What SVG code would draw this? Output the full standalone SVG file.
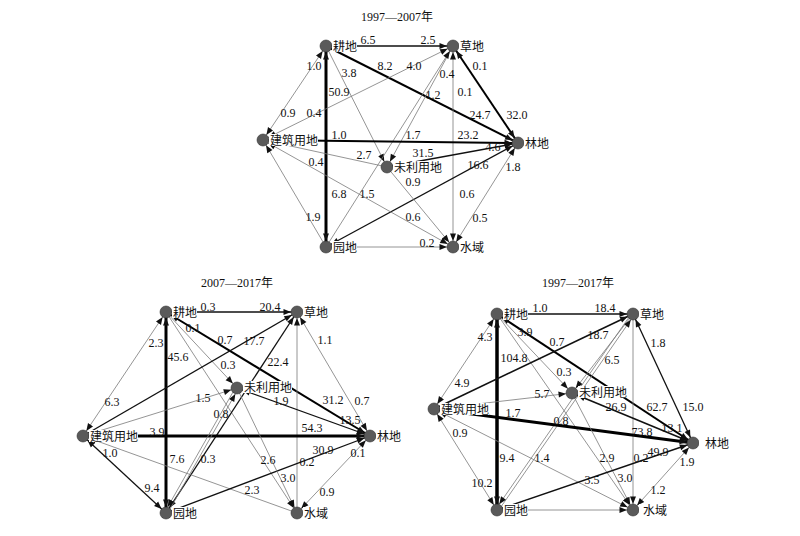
<svg xmlns="http://www.w3.org/2000/svg" width="800" height="536" viewBox="0 0 800 536">
<defs>
<style>
line{fill:none}
.t{stroke:#7a7a7a;stroke-width:.8}
.m{stroke:#111;stroke-width:1.3}
.k{stroke:#000;stroke-width:2}
.v{stroke:#000;stroke-width:3}
.a{marker-end:url(#ar)}
.b{marker-start:url(#ar);marker-end:url(#ar)}
.n{font-family:"Liberation Serif",serif;font-size:12px;fill:#111;text-anchor:middle}
.c{font-family:"Liberation Serif","Noto Sans CJK SC",sans-serif;font-size:12px;fill:#111}
.ttl{font-family:"Liberation Serif","Noto Sans CJK SC",serif;font-size:12px;fill:#111;text-anchor:middle}
circle{fill:#5a5a5a;stroke:#333;stroke-width:.6}
rect{fill:#fff}
</style>
<marker id="ar" markerUnits="userSpaceOnUse" orient="auto-start-reverse" viewBox="-14 -4 14 8" markerWidth="14" markerHeight="8" refX="0" refY="0"><path d="M-13.5,-3 L-6,0 L-13.5,3 Z" fill="#111"/></marker>
</defs>
<rect x="0" y="0" width="800" height="536" fill="#fff"/>
<text class="ttl" x="397" y="21">1997—2007年</text>
<text class="ttl" x="237" y="287">2007—2017年</text>
<text class="ttl" x="578" y="287">1997—2017年</text>

<g id="connectors">
<!-- top graph -->
<line class="m a" x1="326" y1="46" x2="453" y2="46"/>
<line class="t b" x1="326" y1="46" x2="263" y2="140"/>
<line class="v b" x1="326" y1="46" x2="326" y2="247"/>
<line class="k a" x1="326" y1="46" x2="518" y2="143"/>
<line class="t a" x1="326" y1="46" x2="387" y2="167"/>
<line class="t b" x1="263" y1="140" x2="453" y2="46"/>
<line class="k b" x1="453" y1="46" x2="518" y2="143"/>
<line class="t b" x1="453" y1="46" x2="453" y2="247"/>
<line class="t a" x1="453" y1="46" x2="387" y2="167"/>
<line class="t a" x1="326" y1="247" x2="453" y2="46"/>
<line class="k a" x1="263" y1="140" x2="518" y2="143"/>
<line class="m a" x1="387" y1="167" x2="518" y2="143"/>
<line class="m b" x1="326" y1="247" x2="518" y2="143"/>
<line class="t b" x1="518" y1="143" x2="453" y2="247"/>
<line class="t a" x1="387" y1="167" x2="263" y2="140"/>
<line class="t a" x1="326" y1="247" x2="263" y2="140"/>
<line class="t b" x1="263" y1="140" x2="453" y2="247"/>
<line class="t a" x1="387" y1="167" x2="453" y2="247"/>
<line class="t a" x1="326" y1="247" x2="453" y2="247"/>
<g class="n">
<text x="368" y="44">6.5</text><text x="428" y="44">2.5</text>
<text x="314" y="70">1.0</text><text x="349" y="77">3.8</text>
<text x="385" y="70">8.2</text><text x="414" y="70">4.0</text>
<text x="447" y="78">0.4</text><text x="480" y="70">0.1</text>
<text x="339" y="96">50.9</text><text x="433" y="99">1.2</text>
<text x="465" y="96">0.1</text><text x="288" y="117">0.9</text>
<text x="314" y="117">0.4</text><text x="480" y="119">24.7</text>
<text x="517" y="119">32.0</text><text x="339" y="139">1.0</text>
<text x="413" y="139">1.7</text><text x="468" y="139">23.2</text>
<text x="493" y="151">4.6</text><text x="423" y="157">31.5</text>
<text x="364" y="159">2.7</text><text x="316" y="166">0.4</text>
<text x="478" y="169">16.6</text><text x="513" y="171">1.8</text>
<text x="413" y="186">0.9</text><text x="339" y="198">6.8</text>
<text x="367" y="198">1.5</text><text x="467" y="198">0.6</text>
<text x="313" y="221">1.9</text><text x="413" y="221">0.6</text>
<text x="480" y="222">0.5</text><text x="427" y="247">0.2</text>
</g>

<!-- bottom-left graph -->
<line class="m a" x1="166" y1="312" x2="297" y2="312"/>
<line class="t b" x1="166" y1="312" x2="83" y2="436"/>
<line class="v b" x1="166" y1="312" x2="166" y2="513"/>
<line class="k b" x1="166" y1="312" x2="370" y2="436"/>
<line class="t a" x1="166" y1="312" x2="237" y2="388"/>
<line class="t a" x1="166" y1="312" x2="297" y2="513"/>
<line class="m a" x1="83" y1="436" x2="297" y2="312"/>
<line class="m b" x1="166" y1="513" x2="297" y2="312"/>
<line class="t b" x1="297" y1="312" x2="370" y2="436"/>
<line class="t a" x1="297" y1="513" x2="297" y2="312"/>
<line class="v a" x1="83" y1="436" x2="370" y2="436"/>
<line class="t a" x1="83" y1="436" x2="237" y2="388"/>
<line class="m b" x1="83" y1="436" x2="166" y2="513"/>
<line class="t a" x1="297" y1="513" x2="83" y2="436"/>
<line class="m a" x1="166" y1="513" x2="370" y2="436"/>
<line class="t b" x1="370" y1="436" x2="297" y2="513"/>
<line class="t a" x1="237" y1="388" x2="297" y2="513"/>
<line class="m b" x1="237" y1="388" x2="370" y2="436"/>
<line class="t a" x1="167.3" y1="513.7" x2="238.3" y2="388.7"/>
<line class="t a" x1="235.7" y1="387.3" x2="164.7" y2="512.3"/>
<g class="n">
<text x="208" y="311">0.3</text><text x="270" y="311">20.4</text>
<text x="193" y="332">0.1</text><text x="156" y="347">2.3</text>
<text x="225" y="344">0.7</text><text x="254" y="345">17.7</text>
<text x="325" y="344">1.1</text><text x="178" y="361">45.6</text>
<text x="278" y="366">22.4</text><text x="228" y="369">0.3</text>
<text x="203" y="402">1.5</text><text x="281" y="405">1.9</text>
<text x="333" y="404">31.2</text><text x="362" y="405">0.7</text>
<text x="112" y="406">6.3</text><text x="221" y="418">0.8</text>
<text x="350" y="424">13.5</text><text x="312" y="432">54.3</text>
<text x="157" y="436">3.9</text><text x="110" y="457">1.0</text>
<text x="177" y="463">7.6</text><text x="208" y="463">0.3</text>
<text x="323" y="454">30.9</text><text x="358" y="457">0.1</text>
<text x="307" y="466">0.2</text><text x="268" y="464">2.6</text>
<text x="288" y="482">3.0</text><text x="152" y="492">9.4</text>
<text x="252" y="494">2.3</text><text x="327" y="496">0.9</text>
</g>

<!-- bottom-right graph -->
<line class="m a" x1="497" y1="314" x2="633" y2="314"/>
<line class="t b" x1="497" y1="314" x2="434" y2="409"/>
<line class="v b" x1="497" y1="314" x2="497" y2="510" style="stroke-width:3.5"/>
<line class="k b" x1="497" y1="314" x2="693" y2="443"/>
<line class="t a" x1="497" y1="314" x2="572" y2="393"/>
<line class="t a" x1="497" y1="314" x2="633" y2="510"/>
<line class="m a" x1="434" y1="409" x2="633" y2="314" style="stroke-width:1.6"/>
<line class="t a" x1="633" y1="314" x2="572" y2="393"/>
<line class="t a" x1="498.2" y1="510.9" x2="634.2" y2="314.9"/>
<line class="t a" x1="631.8" y1="313.1" x2="495.8" y2="509.1"/>
<line class="m b" x1="633" y1="314" x2="693" y2="443"/>
<line class="t a" x1="633" y1="314" x2="633" y2="510"/>
<line class="t a" x1="434" y1="409" x2="572" y2="393"/>
<line class="v a" x1="434" y1="409" x2="693" y2="443"/>
<line class="t b" x1="434" y1="409" x2="497" y2="510"/>
<line class="t b" x1="434" y1="409" x2="633" y2="510"/>
<line class="m b" x1="572" y1="393" x2="693" y2="443" style="stroke-width:1.6"/>
<line class="t a" x1="572" y1="393" x2="633" y2="510"/>
<line class="m a" x1="497" y1="510" x2="693" y2="443" style="stroke-width:1.6"/>
<line class="t b" x1="693" y1="443" x2="633" y2="510"/>
<line class="t a" x1="497" y1="510" x2="633" y2="510"/>
<g class="n">
<text x="540" y="312">1.0</text><text x="605" y="312">18.4</text>
<text x="525" y="336">3.9</text><text x="485" y="341">4.3</text>
<text x="557" y="346">0.7</text><text x="598" y="339">18.7</text>
<text x="658" y="347">1.8</text><text x="514" y="362">104.8</text>
<text x="612" y="364">6.5</text><text x="564" y="376">0.3</text>
<text x="462" y="387">4.9</text><text x="542" y="398">5.7</text>
<text x="616" y="411">26.9</text><text x="657" y="411">62.7</text>
<text x="693" y="411">15.0</text><text x="513" y="417">1.7</text>
<text x="561" y="425">0.8</text><text x="642" y="436">73.8</text>
<text x="672" y="432">13.1</text><text x="460" y="437">0.9</text>
<text x="507" y="462">9.4</text><text x="542" y="462">1.4</text>
<text x="607" y="462">2.9</text><text x="641" y="462">0.2</text>
<text x="658" y="456">49.9</text><text x="687" y="466">1.9</text>
<text x="592" y="484">3.5</text><text x="625" y="482">3.0</text>
<text x="482" y="487">10.2</text><text x="658" y="494">1.2</text>
</g>
</g>

<!-- top nodes -->
<g id="t-gengdi"><circle cx="326" cy="46" r="6"/><rect x="332" y="40" width="25" height="12"/><text class="c" x="333" y="50.5">耕地</text></g>
<g id="t-caodi"><circle cx="453" cy="46" r="6"/><rect x="459" y="40" width="25" height="12"/><text class="c" x="460" y="50.5">草地</text></g>
<g id="t-lindi"><circle cx="518" cy="143" r="6"/><rect x="524" y="137" width="25" height="12"/><text class="c" x="525" y="147.5">林地</text></g>
<g id="t-jianzhu"><circle cx="263" cy="140" r="6"/><rect x="269" y="134" width="49" height="12"/><text class="c" x="270" y="144.5">建筑用地</text></g>
<g id="t-weiliyong"><circle cx="387" cy="167" r="6"/><rect x="393" y="161" width="49" height="12"/><text class="c" x="394" y="171.5">未利用地</text></g>
<g id="t-yuandi"><circle cx="326" cy="247" r="6"/><rect x="332" y="241" width="25" height="12"/><text class="c" x="333" y="251.5">园地</text></g>
<g id="t-shuiyu"><circle cx="453" cy="247" r="6"/><rect x="459" y="241" width="25" height="12"/><text class="c" x="460" y="251.5">水域</text></g>

<!-- bottom-left nodes -->
<g id="l-gengdi"><circle cx="166" cy="312" r="6"/><rect x="172" y="306" width="25" height="12"/><text class="c" x="173" y="316.5">耕地</text></g>
<g id="l-caodi"><circle cx="297" cy="312" r="6"/><rect x="303" y="306" width="25" height="12"/><text class="c" x="304" y="316.5">草地</text></g>
<g id="l-weiliyong"><circle cx="237" cy="388" r="6"/><rect x="243" y="381" width="49" height="12"/><text class="c" x="244" y="391.5">未利用地</text></g>
<g id="l-jianzhu"><circle cx="83" cy="436" r="6"/><rect x="89" y="430" width="49" height="12"/><text class="c" x="90" y="440.5">建筑用地</text></g>
<g id="l-lindi"><circle cx="370" cy="436" r="6"/><rect x="376" y="430" width="25" height="12"/><text class="c" x="377" y="440.5">林地</text></g>
<g id="l-yuandi"><circle cx="166" cy="513" r="6"/><rect x="172" y="507" width="25" height="12"/><text class="c" x="173" y="517.5">园地</text></g>
<g id="l-shuiyu"><circle cx="297" cy="513" r="6"/><rect x="303" y="507" width="25" height="12"/><text class="c" x="304" y="517.5">水域</text></g>

<!-- bottom-right nodes -->
<g id="r-gengdi"><circle cx="497" cy="314" r="6"/><rect x="503" y="308" width="25" height="12"/><text class="c" x="504" y="318.5">耕地</text></g>
<g id="r-caodi"><circle cx="633" cy="314" r="6"/><rect x="639" y="308" width="25" height="12"/><text class="c" x="640" y="318.5">草地</text></g>
<g id="r-weiliyong"><circle cx="572" cy="393" r="6"/><rect x="578" y="386" width="49" height="12"/><text class="c" x="579" y="396.5">未利用地</text></g>
<g id="r-jianzhu"><circle cx="434" cy="409" r="6"/><rect x="440" y="403" width="49" height="12"/><text class="c" x="441" y="413.5">建筑用地</text></g>
<g id="r-lindi"><circle cx="693" cy="443" r="6"/><rect x="699" y="437" width="25" height="12"/><text class="c" x="705" y="447.5">林地</text></g>
<g id="r-yuandi"><circle cx="497" cy="510" r="6"/><rect x="503" y="504" width="25" height="12"/><text class="c" x="504" y="514.5">园地</text></g>
<g id="r-shuiyu"><circle cx="633" cy="510" r="6"/><rect x="639" y="504" width="25" height="12"/><text class="c" x="643" y="514.5">水域</text></g>
</svg>
